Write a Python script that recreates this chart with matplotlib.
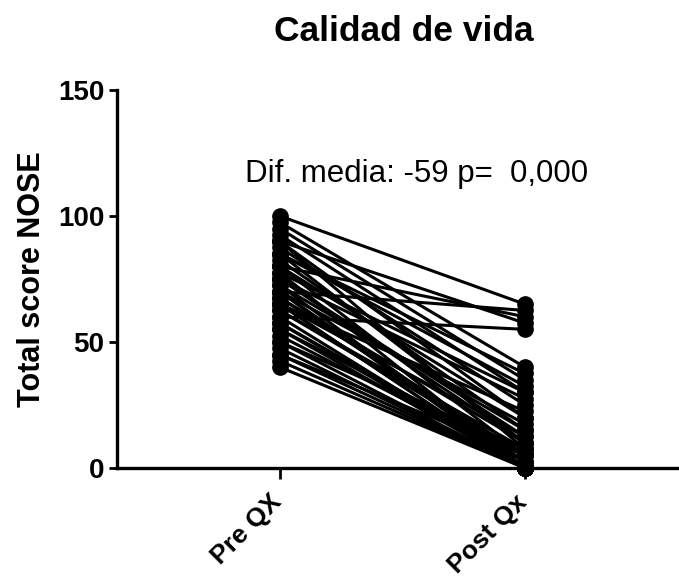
import numpy as np
import matplotlib
matplotlib.use("Agg")
import matplotlib.pyplot as plt
import matplotlib.transforms as mtransforms

plt.rcParams['font.family'] = ['Liberation Sans', 'DejaVu Sans']

# NOSE total score per patient, before and after surgery
groups = ["Pre QX", "Post Qx"]
pre_qx = [100, 97.5, 95, 92.5, 90, 90, 87.5, 85, 85, 82.5, 80, 80, 77.5, 75, 75,
          72.5, 70, 70, 70, 67.5, 65, 65, 65, 62.5, 60, 60, 57.5, 55, 55, 52.5,
          50, 50, 47.5, 45, 45, 42.5, 40, 85, 75, 70, 65, 80, 90, 77.5, 72.5,
          67.5, 62.5, 57.5]
post_qx = [65, 40, 35, 30, 57.5, 20, 25, 10, 32.5, 15, 60, 5, 0, 27.5, 10,
           0, 62.5, 17.5, 0, 5, 22.5, 0, 12.5, 7.5, 55, 0, 2.5, 5, 0, 2.5,
           0, 7.5, 0, 5, 0, 0, 0, 37.5, 12.5, 2.5, 0, 20, 7.5, 30, 15,
           10, 5, 0]
annot = "Dif. media: -59 p=  0,000"

fig = plt.figure(figsize=(6.79, 5.77), dpi=100)
ax = fig.add_axes([0.172, 0.189, 0.828, 0.655])

x = np.arange(len(groups))
for a, b in zip(pre_qx, post_qx):
    ax.plot(x, [a, b], color='black', lw=2.2, marker='o', markersize=11,
            markeredgecolor='black', markerfacecolor='black', clip_on=False)

ax.set_xlim(-0.665, 1.629)
ax.set_ylim(0, 150)
ax.set_yticks([0, 50, 100, 150])
ax.set_xticks(x)
ax.set_xticklabels([])
# slanted category labels, anchored just below and left of each tick
shift = mtransforms.ScaledTranslation(-10 / 100, -22 / 100, fig.dpi_scale_trans)
for xi, g in zip(x, groups):
    ax.text(xi, 0, g, transform=ax.get_xaxis_transform() + shift,
            rotation=45, ha='right', va='top', rotation_mode='anchor',
            fontsize=19, fontweight='bold')
for lab in ax.get_yticklabels():
    lab.set_fontsize(20)
    lab.set_fontweight('bold')

for s in ['top', 'right']:
    ax.spines[s].set_visible(False)
for s in ['left', 'bottom']:
    ax.spines[s].set_linewidth(2.4)
ax.tick_params(axis='both', direction='out', width=2, length=6, pad=3)
ax.tick_params(axis='x', length=8)

ax.set_ylabel("Total score NOSE", fontsize=22, fontweight='bold', labelpad=8)
ax.text(0.56, 116.5, annot, fontsize=22.5, ha='center', va='center')
fig.text(0.595, 0.945, "Calidad de vida", fontsize=25.5, fontweight='bold',
         ha='center', va='center')

fig.savefig("out.png", dpi=100)
